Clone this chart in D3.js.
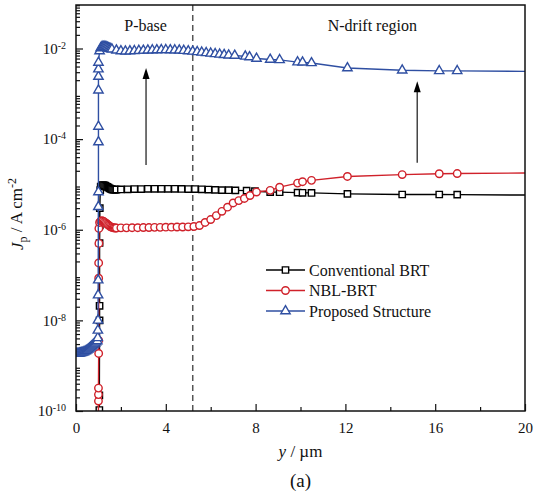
<!DOCTYPE html>
<html>
<head>
<meta charset="utf-8">
<script src="https://cdn.jsdelivr.net/npm/d3@7"></script>
<style>
body { margin: 0; background: #fff; }
svg, svg text { font-family: "Liberation Serif", "Tinos", "Times New Roman", "Nimbus Roman", "DejaVu Serif", serif; }
</style>
</head>
<body>
<div id="chart"></div>
<script>
// ---- data (y in um, Jp in A/cm^2) ----
var convX = [1.03, 1.04, 1.04, 1.05, 1.05, 1.05, 1.06, 1.06, 1.08, 1.1,
    1.15, 1.2, 1.25, 1.3, 1.35, 1.4, 1.45, 1.5, 1.55, 1.6,
    1.65, 1.7, 1.75, 1.8, 2.0, 2.3, 2.6, 2.9, 3.2, 3.5,
    3.8, 4.1, 4.4, 4.7, 5.0, 5.3, 5.6, 5.9, 6.2, 6.5,
    6.8, 7.1, 7.6, 7.97, 8.65, 9.07, 9.87, 10.09, 10.49, 12.09,
    14.53, 16.18, 16.98, 21];
var convY = [1e-12, 1.05e-10, 2.2e-10, 1e-8, 2.1e-8, 5.1e-7, 1.25e-6, 3.0e-6, 7.5e-6, 9.0e-6,
    9.6e-6, 9.7e-6, 9.6e-6, 9.4e-6, 9.1e-6, 8.8e-6, 8.5e-6, 8.2e-6, 8.0e-6, 7.8e-6,
    7.7e-6, 7.65e-6, 7.65e-6, 7.7e-6, 7.75e-6, 7.8e-6, 7.9e-6, 7.9e-6, 8.0e-6, 8.0e-6,
    8.0e-6, 8.0e-6, 8.0e-6, 7.95e-6, 7.9e-6, 7.9e-6, 7.8e-6, 7.7e-6, 7.6e-6, 7.5e-6,
    7.45e-6, 7.4e-6, 7.3e-6, 7.1e-6, 6.8e-6, 6.75e-6, 6.6e-6, 6.55e-6, 6.5e-6, 6.2e-6,
    6.0e-6, 6.0e-6, 5.95e-6, 5.8e-6];

var nblX = [0.99, 1.0, 1.0, 1.0, 1.01, 1.01, 1.01, 1.01, 1.02, 1.02,
    1.05, 1.1, 1.15, 1.2, 1.25, 1.3, 1.35, 1.4, 1.45, 1.5,
    1.55, 1.6, 1.65, 1.7, 1.75, 1.8, 2.0, 2.25, 2.5, 2.75,
    3.0, 3.25, 3.5, 3.75, 4.0, 4.25, 4.5, 4.75, 5.0, 5.25,
    5.5, 5.75, 6.0, 6.25, 6.5, 6.75, 7.0, 7.25, 7.5, 7.75,
    8.04, 8.65, 9.07, 9.87, 10.09, 10.49, 12.09, 14.53, 16.18, 16.98,
    21];
var nblY = [1e-12, 1.66e-10, 2.3e-10, 3.2e-10, 1.86e-9, 3.6e-9, 8.5e-8, 1.85e-7, 5e-7, 1.07e-6,
    1.45e-6, 1.55e-6, 1.58e-6, 1.55e-6, 1.5e-6, 1.44e-6, 1.38e-6, 1.32e-6, 1.26e-6, 1.2e-6,
    1.16e-6, 1.13e-6, 1.11e-6, 1.1e-6, 1.09e-6, 1.09e-6, 1.1e-6, 1.1e-6, 1.11e-6, 1.11e-6,
    1.12e-6, 1.12e-6, 1.13e-6, 1.13e-6, 1.14e-6, 1.14e-6, 1.15e-6, 1.15e-6, 1.16e-6, 1.18e-6,
    1.24e-6, 1.45e-6, 1.68e-6, 2.05e-6, 2.55e-6, 3.15e-6, 3.9e-6, 4.4e-6, 4.9e-6, 5.7e-6,
    6.8e-6, 7.4e-6, 8.7e-6, 1.07e-5, 1.15e-5, 1.23e-5, 1.5e-5, 1.65e-5, 1.72e-5, 1.74e-5,
    1.8e-5];

var propX = [0, 0.05, 0.1, 0.15, 0.2, 0.25, 0.3, 0.35, 0.4, 0.45,
    0.5, 0.55, 0.6, 0.65, 0.7, 0.75, 0.8, 0.85, 0.9, 0.95,
    0.97, 0.975, 0.98, 0.985, 0.99, 0.995, 1.0, 1.0, 1.0, 1.0,
    1.0, 1.0, 1.0,
    1.05, 1.1, 1.15, 1.2, 1.25, 1.3, 1.35, 1.4, 1.45, 1.5,
    1.55, 1.6, 1.8, 2.0, 2.2, 2.4, 2.6, 2.8, 3.0, 3.2,
    3.4, 3.6, 3.8, 4.0, 4.2, 4.4, 4.6, 4.8, 5.0, 5.2,
    5.4, 5.6, 5.8, 6.0, 6.2, 6.4, 6.6, 6.8,
    7.07, 7.54, 7.73, 8.04, 8.65, 9.07, 9.87, 10.09, 10.49, 12.09,
    14.53, 16.18, 16.98, 21];
var propY = [1.85e-9, 1.85e-9, 1.86e-9, 1.87e-9, 1.89e-9, 1.92e-9, 1.96e-9, 2.0e-9, 2.06e-9, 2.13e-9,
    2.2e-9, 2.3e-9, 2.42e-9, 2.55e-9, 2.68e-9, 2.82e-9, 2.97e-9, 3.12e-9, 3.3e-9, 3.5e-9,
    4.1e-9, 6e-9, 1e-8, 3.6e-8, 7.7e-8, 3.2e-6, 6.8e-6, 8.6e-5, 1.9e-4, 1.2e-3,
    2.4e-3, 3.5e-3, 4.9e-3,
    8.8e-3, 1.02e-2, 1.08e-2, 1.1e-2, 1.1e-2, 1.09e-2, 1.07e-2, 1.05e-2, 1.02e-2, 1.0e-2,
    9.8e-3, 9.6e-3, 9.1e-3, 8.8e-3, 8.7e-3, 8.75e-3, 8.85e-3, 8.95e-3, 9.05e-3, 9.15e-3,
    9.2e-3, 9.25e-3, 9.3e-3, 9.3e-3, 9.25e-3, 9.2e-3, 9.1e-3, 8.95e-3, 8.8e-3, 8.6e-3,
    8.4e-3, 8.2e-3, 8.0e-3, 7.8e-3, 7.6e-3, 7.4e-3, 7.25e-3, 7.1e-3,
    7.0e-3, 6.7e-3, 6.5e-3, 6.0e-3, 5.7e-3, 5.6e-3, 5.0e-3, 4.95e-3, 4.8e-3, 3.7e-3,
    3.3e-3, 3.2e-3, 3.2e-3, 3.1e-3];

var seriesNames = ["Conventional BRT", "NBL-BRT", "Proposed Structure"];
var xTicks = [0, 4, 8, 12, 16, 20];
var xMinorTicks = [2, 6, 10, 14, 18];
var yTicks = [1e-10, 1e-8, 1e-6, 1e-4, 1e-2];
var regionLabels = ["P-base", "N-drift region"];
var regionLabelX = [3.1, 13.2];
var boundaryX = 5.2;
// arrows: x position, start and end Jp
var arrowX = [3.12, 15.2];
var arrowFrom = [2.7e-5, 3.0e-5];
var arrowTo = [3.7e-3, 1.9e-3];

var serif = "'Liberation Serif', 'Tinos', 'Times New Roman', 'Nimbus Roman', 'DejaVu Serif', serif";

var margin = {top: 5, right: 8, bottom: 84, left: 76},
    width = 533 - margin.left - margin.right,
    height = 495 - margin.top - margin.bottom;

var x = d3.scaleLinear().domain([0, 20]).range([0, width]);
var y = d3.scaleLog().domain([1e-10, Math.pow(10, -1.04)]).range([height, 0]);

var svg = d3.select("#chart")
    .append("svg")
        .attr("width", 533)
        .attr("height", 495)
        .style("font-family", serif)
    .append("g")
        .attr("transform", "translate(" + margin.left + "," + margin.top + ")");

svg.append("defs").append("clipPath").attr("id", "clip")
    .append("rect").attr("width", width).attr("height", height);

// minor log ticks
var yMinor = [];
for (var k = -10; k <= -2; k++) {
    for (var m = 2; m <= 9; m++) {
        var v = m * Math.pow(10, k);
        if (v <= y.domain()[1]) yMinor.push(v);
    }
}

// Axes (ticks point inward)
var xAxis = d3.axisBottom(x).tickValues(xTicks).tickSize(-7).tickSizeOuter(0).tickPadding(11)
    .tickFormat(d3.format("d"));
var xAxisMinor = d3.axisBottom(x).tickValues(xMinorTicks).tickSize(-4).tickSizeOuter(0).tickFormat("");
var yAxis = d3.axisLeft(y).tickValues(yTicks).tickSize(-7).tickSizeOuter(0).tickPadding(10);
var yAxisMinor = d3.axisLeft(y).tickValues(yMinor).tickSize(-4).tickSizeOuter(0).tickFormat("");

var gx = svg.append("g")
    .attr("class", "x axis")
    .attr("transform", "translate(0," + height + ")")
    .call(xAxis);
svg.append("g")
    .attr("transform", "translate(0," + height + ")")
    .call(xAxisMinor);
var gy = svg.append("g")
    .attr("class", "y axis")
    .call(yAxis);
svg.append("g").call(yAxisMinor);

svg.selectAll(".domain").remove();
svg.selectAll("g").attr("font-family", null);
svg.selectAll(".tick line").attr("stroke", "#111").attr("stroke-width", 1.2);
svg.selectAll(".tick text").attr("fill", "#111").attr("font-size", "15px");

gy.selectAll(".tick text").each(function(d) {
    var t = d3.select(this).text("");
    t.append("tspan").text("10");
    t.append("tspan").attr("dy", "-0.5em").attr("font-size", "10px").text(Math.round(Math.log10(d)));
});

// dashed boundary between P-base and N-drift
svg.append("line")
    .attr("x1", x(boundaryX)).attr("x2", x(boundaryX))
    .attr("y1", 0).attr("y2", height)
    .style("stroke", "#555")
    .style("stroke-width", 1.5)
    .style("stroke-dasharray", "6,4");

// region labels
svg.selectAll(".region")
    .data(regionLabels)
    .enter().append("text")
    .attr("class", "region")
    .attr("x", function(d, i) { return x(regionLabelX[i]); })
    .attr("y", 26)
    .attr("text-anchor", "middle")
    .attr("font-size", "16px")
    .attr("fill", "#111")
    .text(function(d) { return d; });

// arrows
arrowX.forEach(function(ax, i) {
    var xp = x(ax), y0 = y(arrowFrom[i]), y1 = y(arrowTo[i]);
    svg.append("line")
        .attr("x1", xp).attr("x2", xp)
        .attr("y1", y0).attr("y2", y1 + 8)
        .style("stroke", "#444")
        .style("stroke-width", 1.5);
    svg.append("path")
        .attr("d", "M" + xp + "," + y1 + "L" + (xp - 3.5) + "," + (y1 + 11) + "L" + (xp + 3.5) + "," + (y1 + 11) + "Z")
        .style("fill", "#000");
});

var series = [
    {name: seriesNames[0], xs: convX, ys: convY, color: "#000000", symbol: d3.symbolSquare, size: 40},
    {name: seriesNames[1], xs: nblX, ys: nblY, color: "#d0212a", symbol: d3.symbolCircle, size: 44},
    {name: seriesNames[2], xs: propX, ys: propY, color: "#2f4fa2", symbol: d3.symbolTriangle, size: 38}
];

var plot = svg.append("g").attr("clip-path", "url(#clip)");

series.forEach(function(s) {
    var pts = s.xs.map(function(d, i) { return [d, s.ys[i]]; });
    var line = d3.line()
        .x(function(d) { return x(d[0]); })
        .y(function(d) { return y(d[1]); });

    plot.append("path")
        .style("stroke", s.color)
        .style("stroke-width", 1.4)
        .style("fill", "none")
        .attr("d", line(pts));

    plot.selectAll(null)
        .data(pts)
        .enter().append("path")
        .attr("transform", function(d) { return "translate(" + x(d[0]) + "," + y(d[1]) + ")"; })
        .attr("d", d3.symbol().type(s.symbol).size(s.size))
        .style("fill", "#fff")
        .style("stroke", s.color)
        .style("stroke-width", 1.4);
});

// frame
svg.append("rect")
    .attr("width", width).attr("height", height)
    .style("fill", "none")
    .style("stroke", "#111")
    .style("stroke-width", 1.5);

// legend
var legend = svg.append("g").attr("transform", "translate(" + (266 - margin.left) + "," + (270 - margin.top) + ")");
series.forEach(function(s, i) {
    var g = legend.append("g").attr("transform", "translate(0," + (i * 20.5) + ")");
    g.append("line").attr("x1", 0).attr("x2", 39).attr("y1", 0).attr("y2", 0)
        .style("stroke", s.color).style("stroke-width", 1.4);
    g.append("path").attr("transform", "translate(19.5,0)")
        .attr("d", d3.symbol().type(s.symbol).size(s.size))
        .style("fill", "#fff").style("stroke", s.color).style("stroke-width", 1.4);
    g.append("text").attr("x", 43).attr("y", 5.5)
        .attr("font-size", "16px").attr("fill", "#111")
        .text(s.name);
});

// axis labels
var xl = svg.append("text")
    .attr("x", width / 2)
    .attr("y", height + 46)
    .attr("text-anchor", "middle")
    .attr("font-size", "17px")
    .attr("fill", "#111");
xl.append("tspan").attr("font-style", "italic").text("y");
xl.append("tspan").text(" / \u00b5m");

svg.append("text")
    .attr("x", width / 2)
    .attr("y", height + 76)
    .attr("text-anchor", "middle")
    .attr("font-size", "19px")
    .attr("fill", "#111")
    .text("(a)");

var yl = svg.append("text")
    .attr("transform", "translate(" + (23 - margin.left) + "," + (height / 2 + 6) + ") rotate(-90)")
    .attr("text-anchor", "middle")
    .attr("font-size", "17px")
    .attr("fill", "#111");
yl.append("tspan").attr("font-style", "italic").text("J");
yl.append("tspan").attr("dy", "0.3em").attr("font-size", "12px").text("p");
yl.append("tspan").attr("dy", "-0.3em").text(" / A cm");
yl.append("tspan").attr("dy", "-0.5em").attr("font-size", "12px").text("-2");
</script>
</body>
</html>
